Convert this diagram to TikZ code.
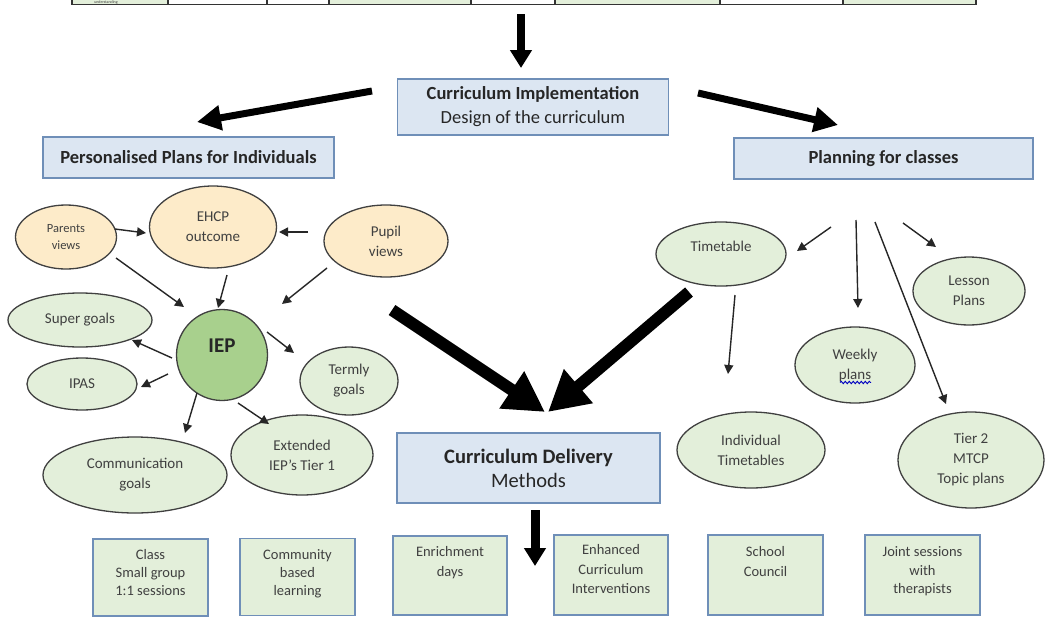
\documentclass[tikz,border=0pt]{standalone}
\usepackage{fontspec}
\setmainfont{Carlito}
\usetikzlibrary{shapes.geometric,arrows.meta,calc,decorations.pathmorphing}
\definecolor{boxblue}{HTML}{DCE6F2}
\definecolor{boxline}{HTML}{6F8FB8}
\definecolor{lgreen}{HTML}{E3EFDA}
\definecolor{lyellow}{HTML}{FDEBC9}
\definecolor{iepgreen}{HTML}{A8D08D}
\definecolor{txt}{HTML}{404040}
\begin{document}
\begin{tikzpicture}[x=1pt,y=-1pt,
 hdr/.style={draw=boxline, line width=1.2pt, fill=boxblue, inner sep=0pt, text=black!85, align=center},
 ell/.style={ellipse, draw=black!75, line width=1.3pt, fill=lgreen, inner sep=0pt, text=txt, align=center, font=\fontsize{15}{20}\selectfont},
 yell/.style={ell, fill=lyellow},
 gbox/.style={draw=boxline, line width=1.3pt, fill=lgreen, inner sep=0pt},
 btxt/.style={text=txt, align=center, inner sep=0pt, font=\fontsize{14.5}{19.5}\selectfont},
 cell/.style={draw=black!80, line width=1.2pt},
 arr/.style={-{Triangle[length=9pt,width=9pt]}, line width=1.4pt, black!85},
 mid/.style={-{Triangle[length=24pt,width=24pt]}, line width=7pt, black},
 big/.style={-{Triangle[length=40pt,width=42pt]}, line width=12pt, black},
 down/.style={-{Triangle[length=18pt,width=21pt]}, line width=9pt, black}
]
\useasboundingbox (0,0) rectangle (1046,616);
\clip (0,0) rectangle (1046,616);
\fill[white] (0,0) rectangle (1046,616);

% top table row (cut off)
\filldraw[cell, fill=lgreen] (72,-20) rectangle (168,4.5);
\filldraw[cell, fill=white] (168,-20) rectangle (267,4.5);
\filldraw[cell, fill=white] (267,-20) rectangle (329,4.5);
\filldraw[cell, fill=lgreen] (329,-20) rectangle (471,4.5);
\filldraw[cell, fill=white] (471,-20) rectangle (555,4.5);
\filldraw[cell, fill=lgreen] (555,-20) rectangle (720,4.5);
\filldraw[cell, fill=white] (720,-20) rectangle (843,4.5);
\filldraw[cell, fill=lgreen] (843,-20) rectangle (976,4.5);
\node[text=txt, font=\fontsize{4}{4}\selectfont, inner sep=0pt] (und) at (106,2) {understanding};

% header boxes
\node[hdr, minimum width=271, minimum height=56, font=\fontsize{18.5}{24}\selectfont] (impl) at (533,107)
  {\textbf{Curriculum Implementation}\\Design of the curriculum};
\node[hdr, minimum width=291, minimum height=41, font=\bfseries\fontsize{18.5}{21}\selectfont] (pers) at (188.5,157.5) {Personalised Plans for Individuals};
\node[hdr, minimum width=299, minimum height=41, font=\bfseries\fontsize{18.5}{21}\selectfont] (plan) at (883.5,158.5) {Planning for classes};
\node[hdr, minimum width=263, minimum height=70, font=\fontsize{20.5}{24}\selectfont] (deliv) at (528.5,468)
  {\textbf{Curriculum Delivery}\\Methods};

% top arrow
\coordinate (topstart) at (521,14);
\coordinate (topend) at (521,68);
\draw[down, line width=8pt] (topstart) -- (topend);

% mid arrows from implementation
\coordinate (ls) at (372,91);
\coordinate (lt) at (197,122);
\coordinate (rs) at (698,93);
\coordinate (rt) at (838,125);
\draw[mid] (ls) -- (lt);
\draw[mid] (rs) -- (rt);

% left cluster
\node[yell, minimum width=101, minimum height=64, font=\fontsize{12.5}{17}\selectfont] (parents) at (66,237) {Parents\\views};
\node[yell, minimum width=127, minimum height=82] (ehcp) at (213,227) {EHCP\\outcome};
\node[yell, minimum width=124, minimum height=72] (pupil) at (386,241) {Pupil\\views};
\node[circle, draw=black!75, line width=1.3pt, fill=iepgreen, minimum size=91, inner sep=0pt, text=black!85, font=\bfseries\fontsize{21}{24}\selectfont] (iep) at (222,355) {\raisebox{18pt}{IEP}};
\node[ell, minimum width=144, minimum height=54] (super) at (80,320) {Super goals};
\node[ell, minimum width=110, minimum height=52] (ipas) at (82,384) {IPAS};
\node[ell, minimum width=98, minimum height=68] (termly) at (349,381) {Termly\\goals};
\node[ell, minimum width=184, minimum height=76] (comm) at (135,475) {Communication\\goals};
\node[ell, minimum width=142, minimum height=80] (ext) at (302,455) {Extended\\IEP’s Tier 1};

% arrow end points (connectors do not touch the shapes)
\coordinate (a1s) at (115,229); \coordinate (a1e) at (146,233);
\coordinate (a2s) at (308,232); \coordinate (a2e) at (279,232);
\coordinate (a3s) at (116,258); \coordinate (a3e) at (184,307);
\coordinate (a4s) at (227,275); \coordinate (a4e) at (218,308);
\coordinate (a5s) at (327,268); \coordinate (a5e) at (282,304);
\coordinate (a6s) at (172,358); \coordinate (a6e) at (132,340);
\coordinate (a7s) at (168,374); \coordinate (a7e) at (141,387);
\coordinate (a8s) at (267,332); \coordinate (a8e) at (294,353);
\coordinate (a9s) at (197,393); \coordinate (a9e) at (185,433);
\coordinate (a10s) at (238,403); \coordinate (a10e) at (269,424);
\draw[arr] (a1s) -- (a1e);
\draw[arr] (a2s) -- (a2e);
\draw[arr] (a3s) -- (a3e);
\draw[arr] (a4s) -- (a4e);
\draw[arr] (a5s) -- (a5e);
\draw[arr] (a6s) -- (a6e);
\draw[arr] (a7s) -- (a7e);
\draw[arr] (a8s) -- (a8e);
\draw[arr] (a9s) -- (a9e);
\draw[arr] (a10s) -- (a10e);

% right cluster
\node[ell, minimum width=130, minimum height=64] (tt) at (721,254) {\raisebox{15pt}{Timetable}};
\node[ell, minimum width=112, minimum height=68] (lesson) at (969,291) {Lesson\\Plans};
\node[ell, minimum width=120, minimum height=76] (weekly) at (855,365) {Weekly\\plans};
\node[ell, minimum width=148, minimum height=76] (indiv) at (751,450) {Individual\\Timetables};
\node[ell, minimum width=146, minimum height=96] (tier) at (971,460) {Tier 2\\MTCP\\Topic plans};
\coordinate (wv1) at (840,382.5); \coordinate (wv2) at (871,382.5);
\draw[blue!75!black, line width=0.9pt, decorate, decoration={snake, amplitude=1.2pt, segment length=4pt}] (wv1) -- (wv2);

\coordinate (p1) at (831,227); \coordinate (p1e) at (797,251);
\coordinate (p2) at (856,220); \coordinate (p2e) at (858,308);
\coordinate (p3) at (875,222); \coordinate (p3e) at (946,404);
\coordinate (p4) at (903,223); \coordinate (p4e) at (936,247);
\coordinate (t1) at (735,295); \coordinate (t1e) at (728,374);
\draw[arr] (p1) -- (p1e);
\draw[arr] (p2) -- (p2e);
\draw[arr] (p3) -- (p3e);
\draw[arr] (p4) -- (p4e);
\draw[arr] (t1) -- (t1e);

% big arrows to delivery
\coordinate (bl) at (392,310); \coordinate (ble) at (545,412);
\coordinate (br) at (689,292); \coordinate (bre) at (548,412);
\draw[big] (bl) -- (ble);
\draw[big] (br) -- (bre);

% delivery down arrow
\coordinate (dd) at (535,510); \coordinate (dde) at (535,566);
\draw[down] (dd) -- (dde);

% bottom boxes
\node[gbox, minimum width=115, minimum height=77] (b1) at (150.5,577.5) {};
\node[gbox, minimum width=115, minimum height=77] (b2) at (297.5,577) {};
\node[gbox, minimum width=114, minimum height=79] (b3) at (450,575.5) {};
\node[gbox, minimum width=114, minimum height=80] (b4) at (611,575) {};
\node[gbox, minimum width=115, minimum height=80] (b5) at (765.5,575) {};
\node[gbox, minimum width=115, minimum height=80] (b6) at (922.5,575) {};
\node[btxt, anchor=north, font=\fontsize{14.5}{18}\selectfont] (t1b) at ($(b1.north)+(0,11)$) {Class\\Small group\\1:1 sessions};
\node[btxt, anchor=north, font=\fontsize{14.5}{18}\selectfont] (t2b) at ($(b2.north)+(0,11)$) {Community\\based\\learning};
\node[btxt, anchor=north] (t3b) at ($(b3.north)+(0,11)$) {Enrichment\\days};
\node[btxt, anchor=north] (t4b) at ($(b4.north)+(0,10)$) {Enhanced\\Curriculum\\Interventions};
\node[btxt, anchor=north] (t5b) at ($(b5.north)+(0,12)$) {School\\Council};
\node[btxt, anchor=north, font=\fontsize{14.5}{18.5}\selectfont] (t6b) at ($(b6.north)+(0,12)$) {Joint sessions\\with\\therapists};
\end{tikzpicture}
\end{document}
